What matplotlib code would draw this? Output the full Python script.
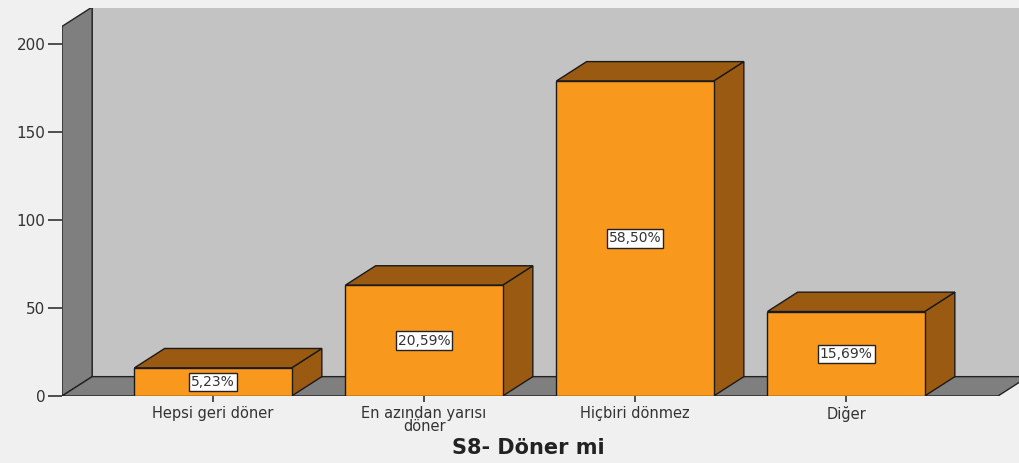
import matplotlib.pyplot as plt
from matplotlib.patches import Polygon, Rectangle

# data
categories = ["Hepsi geri döner", "En azından yarısı\ndöner", "Hiçbiri dönmez", "Diğer"]
counts = [16, 63, 179, 48]
percents = [5.23, 20.59, 58.50, 15.69]
yticks = [0, 50, 100, 150, 200]

# 3D look settings
bar_w = 0.745
dx, dy = 0.143, 11.0
x_left, x_right = -0.716, 3.72
wall_top = 210.0

front = "#f8991e"
dark = "#9a5a12"
wall = "#7f7f7f"
back = "#c3c3c3"
bg = "#f0f0f0"

fig = plt.figure(figsize=(10.2, 4.63), dpi=100, facecolor=bg)
ax = fig.add_axes([62 / 1020, 1 - 396 / 463, 958 / 1020, 388 / 463])
ax.set_facecolor(bg)
ax.set_xlim(x_left, x_left + 958 / 211)
ax.set_ylim(0, 388 / 1.76)
for s in ax.spines.values():
    s.set_visible(False)

# back wall (runs off the right edge like the original)
ax.add_patch(Rectangle((x_left + dx, dy), 5, wall_top,
                       facecolor=back, edgecolor="#555555", lw=1.2, clip_on=True))
# left wall
ax.add_patch(Polygon([(x_left, 0), (x_left, wall_top), (x_left + dx, wall_top + dy),
                      (x_left + dx, dy)], closed=True, facecolor=wall,
                     edgecolor="#222222", lw=1.0))
# floor
ax.add_patch(Polygon([(x_left, 0), (x_right, 0), (x_right + dx, dy), (x_left + dx, dy)],
                     closed=True, facecolor=wall, edgecolor="#222222", lw=1.0))

# bars
for i, (c, p) in enumerate(zip(counts, percents)):
    l, r = i - bar_w / 2, i + bar_w / 2
    ax.add_patch(Polygon([(r, 0), (r + dx, dy), (r + dx, c + dy), (r, c)], closed=True,
                         facecolor=dark, edgecolor="#1a1a1a", lw=1.0))
    ax.add_patch(Polygon([(l, c), (r, c), (r + dx, c + dy), (l + dx, c + dy)], closed=True,
                         facecolor=dark, edgecolor="#1a1a1a", lw=1.0))
    ax.add_patch(Rectangle((l, 0), bar_w, c, facecolor=front, edgecolor="#1a1a1a", lw=1.0))
    ax.text(i, c / 2, f"{p:.2f}%".replace(".", ","), ha="center", va="center",
            fontsize=10, color="#333333",
            bbox=dict(boxstyle="square,pad=0.15", facecolor="white", edgecolor="#222222", lw=1.0))

ax.set_yticks(yticks)
ax.set_yticklabels([str(t) for t in yticks], fontsize=11, color="#333333")
ax.set_xticks(range(len(categories)))
ax.set_xticklabels(categories, fontsize=10.5, color="#333333", linespacing=0.85)
ax.tick_params(axis="y", direction="out", length=10, width=1.2, color="#333333", pad=2)
ax.tick_params(axis="x", direction="out", length=4, width=1.2, color="#333333", pad=3)

fig.text(528 / 1020, 1 - 448 / 463, "S8- Döner mi", ha="center", va="center",
         fontsize=15, fontweight="bold", color="#222222")

fig.savefig("out.png", dpi=100, facecolor=bg)
